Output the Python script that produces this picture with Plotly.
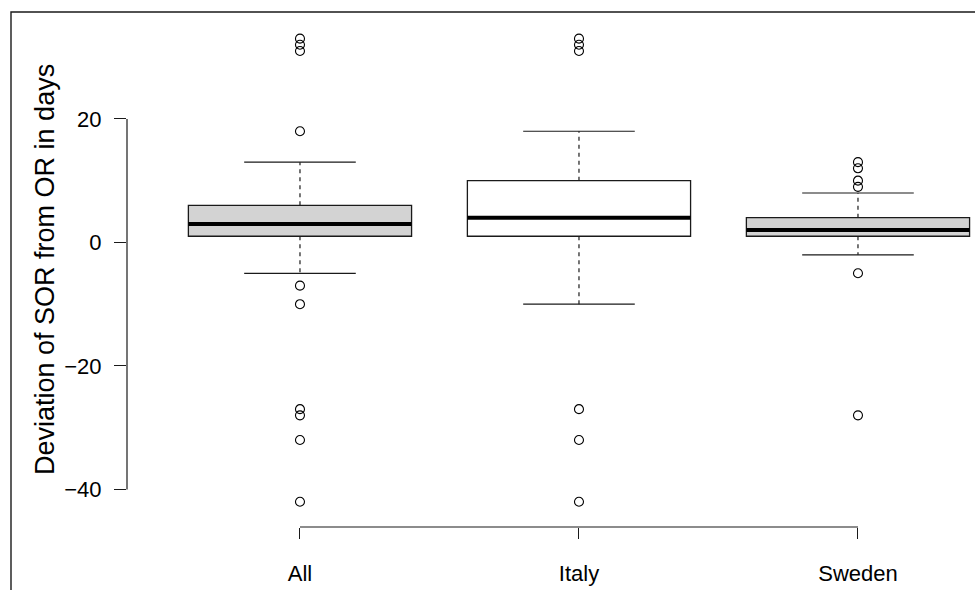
import plotly.graph_objects as go

# ---- data ----
categories = ["All", "Italy", "Sweden"]
positions = [1, 2, 3]
q1 = [1, 1, 1]
median = [3, 4, 2]
q3 = [6, 10, 4]
lower_whisker = [-5, -10, -2]
upper_whisker = [13, 18, 8]
outliers = {
    "All": [33, 32, 31, 18, -7, -10, -27, -28, -32, -42],
    "Italy": [33, 32, 31, -27, -32, -42],
    "Sweden": [13, 12, 10, 9, -5, -28],
}
fill_colors = ["#d3d3d3", "#ffffff", "#d3d3d3"]
y_ticks = [-40, -20, 0, 20]
y_title = "Deviation of SOR from OR in days"

FONT = "Liberation Sans, Arial, Helvetica, sans-serif"
BOXW = 0.8
CAPW = 0.4

fig = go.Figure()

for i, cat in enumerate(categories):
    p = positions[i]
    # box body (no whiskers: fences equal to quartiles)
    fig.add_trace(go.Box(
        x=[p], q1=[q1[i]], median=[median[i]], q3=[q3[i]],
        lowerfence=[q1[i]], upperfence=[q3[i]],
        width=BOXW, fillcolor=fill_colors[i],
        line=dict(color="#1a1a1a", width=1.3), whiskerwidth=0,
        hoverinfo="skip", showlegend=False,
    ))
    # dashed whiskers
    fig.add_trace(go.Scatter(
        x=[p, p, None, p, p], y=[q3[i], upper_whisker[i], None, q1[i], lower_whisker[i]],
        mode="lines", line=dict(color="#1a1a1a", width=1.2, dash="4px,4px"),
        hoverinfo="skip", showlegend=False,
    ))
    # caps
    fig.add_trace(go.Scatter(
        x=[p - CAPW / 2, p + CAPW / 2, None, p - CAPW / 2, p + CAPW / 2],
        y=[upper_whisker[i], upper_whisker[i], None, lower_whisker[i], lower_whisker[i]],
        mode="lines", line=dict(color="#1a1a1a", width=1.2),
        hoverinfo="skip", showlegend=False,
    ))
    # thick median
    fig.add_trace(go.Scatter(
        x=[p - BOXW / 2, p + BOXW / 2], y=[median[i], median[i]],
        mode="lines", line=dict(color="#000000", width=4),
        hoverinfo="skip", showlegend=False,
    ))
    # outliers
    vals = outliers[cat]
    fig.add_trace(go.Scatter(
        x=[p] * len(vals), y=vals, mode="markers",
        marker=dict(symbol="circle-open", size=9, color="#000000", line=dict(width=1.1)),
        hoverinfo="skip", showlegend=False,
    ))

W, H = 975, 590
L, R, T, B = 127, 0, 13, 63

shapes = [
    # x axis line between first and last tick
    dict(type="line", xref="x", yref="paper", x0=positions[0], x1=positions[-1], y0=0, y1=0,
         line=dict(color="#1a1a1a", width=1.2)),
    # y axis line between first and last tick
    dict(type="line", xref="paper", yref="y", x0=0, x1=0, y0=y_ticks[0], y1=y_ticks[-1],
         line=dict(color="#1a1a1a", width=1.2)),
    # outer frame (cropped)
    dict(type="rect", xref="paper", yref="paper",
         x0=(11 - L) / (W - L - R), x1=(W + 20 - L) / (W - L - R),
         y0=-(H + 20 - (H - B)) / (H - T - B), y1=(H - B - 12) / (H - T - B),
         line=dict(color="#1a1a1a", width=1.4)),
]

fig.update_layout(
    width=W, height=H,
    margin=dict(l=L, r=R, t=T, b=B),
    paper_bgcolor="white", plot_bgcolor="white",
    boxmode="overlay",
    font=dict(family=FONT, size=22, color="#000000"),
    shapes=shapes,
    annotations=[dict(
        text=y_title, textangle=-90, xref="paper", yref="paper",
        x=(45 - L) / (W - L - R), y=0.5, xanchor="center", yanchor="middle",
        showarrow=False, font=dict(family=FONT, size=27, color="#000000"),
    )],
    xaxis=dict(
        range=[0.38, 0.38 + (W - L - R) / 279.0],
        tickvals=positions, ticktext=categories,
        ticks="outside", ticklen=11, tickwidth=1.2, tickcolor="#1a1a1a",
        showline=False, showgrid=False, zeroline=False,
        ticklabelstandoff=16,
        tickfont=dict(family=FONT, size=22, color="#000000"),
    ),
    yaxis=dict(
        range=[-46.08, 37.15],
        tickvals=y_ticks,
        ticks="outside", ticklen=12, tickwidth=1.2, tickcolor="#1a1a1a",
        showline=False, showgrid=False, zeroline=False,
        ticklabelstandoff=8,
        tickfont=dict(family=FONT, size=22, color="#000000"),
    ),
)

fig.write_html("out.html")
